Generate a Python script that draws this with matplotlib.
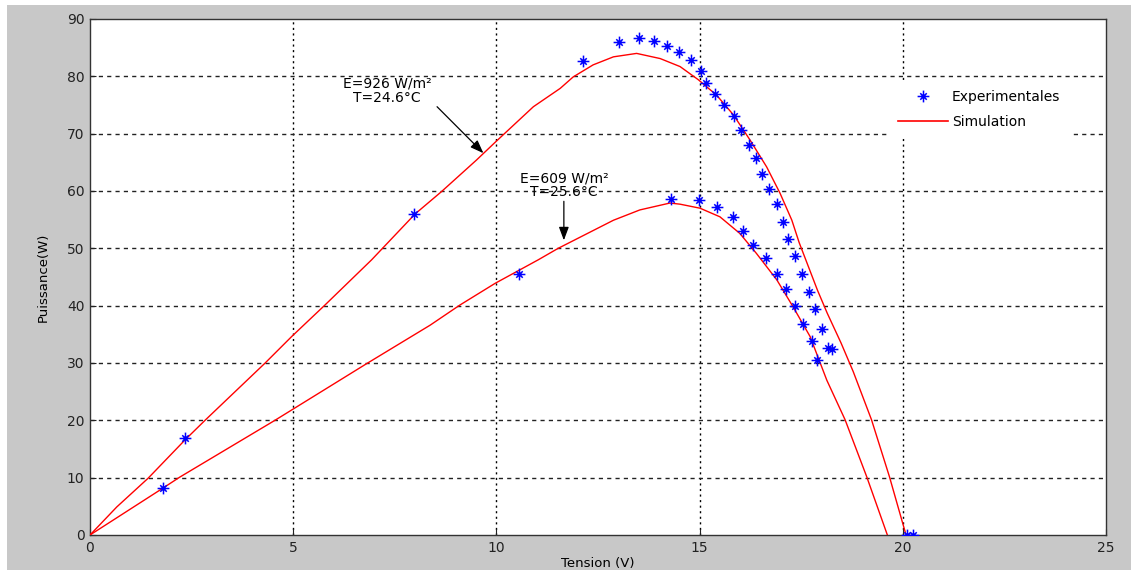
import matplotlib
matplotlib.use('Agg')
import matplotlib.pyplot as plt
from matplotlib.lines import Line2D
from matplotlib.patches import Rectangle
from matplotlib.path import Path

# Simulation curves
sim926_v = [0, 0.66, 1.43, 2.34, 2.83, 4.31, 4.96, 5.78, 6.93, 8.0, 8.65, 9.51, 9.97,
            10.91, 11.57, 11.89, 12.38, 12.88, 13.45, 14.03, 14.52, 14.97, 15.42, 15.83,
            16.24, 16.65, 16.98, 17.27, 17.45, 17.9, 18.14, 18.48, 18.78, 19.23, 19.67, 20.08]
sim926_p = [0, 4.9, 9.9, 16.6, 20.0, 30.0, 34.6, 40.1, 48.0, 56.0, 59.9, 65.4, 68.5,
            74.7, 77.9, 79.9, 82.0, 83.4, 84.0, 83.1, 81.7, 79.4, 76.7, 73.3,
            68.9, 64.2, 59.6, 54.9, 51.0, 42.7, 38.7, 33.5, 28.5, 20.1, 10.2, 0]

sim609_v = [0, 1.8, 2.21, 4.55, 6.81, 8.37, 9.1, 9.97, 11.03, 11.52, 12.88, 13.53, 14.27,
            14.52, 15.01, 15.5, 15.99, 16.4, 16.9, 17.3, 17.72, 18.13, 18.58, 19.11, 19.62]
sim609_p = [0, 8.2, 10.1, 20.0, 29.9, 36.6, 40.1, 43.9, 48.0, 50.0, 54.9, 56.7, 57.9,
            57.7, 57.0, 55.5, 52.6, 49.1, 44.5, 39.8, 34.6, 27.0, 20.1, 10.2, 0]

# Experimental points
exp926_v = [2.34, 7.97, 12.13, 13.02, 13.5, 13.89, 14.19, 14.49, 14.8, 15.03, 15.15, 15.38,
            15.6, 15.84, 16.03, 16.22, 16.4, 16.54, 16.71, 16.91, 17.06, 17.18, 17.35, 17.53,
            17.69, 17.84, 18.0, 18.15, 18.25, 20.1]
exp926_p = [16.9, 56.0, 82.7, 86.0, 86.6, 86.2, 85.3, 84.2, 82.9, 81.0, 78.8, 77.0,
            75.0, 73.0, 70.6, 68.1, 65.7, 63.0, 60.3, 57.7, 54.6, 51.6, 48.7, 45.6,
            42.4, 39.4, 35.9, 32.6, 32.5, 0]

exp609_v = [1.8, 10.56, 14.29, 14.99, 15.44, 15.83, 16.08, 16.31, 16.63, 16.9, 17.13,
            17.35, 17.55, 17.76, 17.88, 20.24]
exp609_p = [8.2, 45.5, 58.6, 58.4, 57.2, 55.5, 53.1, 50.6, 48.3, 45.6, 42.9,
            39.9, 36.8, 33.9, 30.6, 0]

plt.rcParams['font.family'] = ['DejaVu Sans']

# MATLAB-like asterisk: long plus arms, short diagonal arms
d = 0.55
verts = [(-1, 0), (1, 0), (0, -1), (0, 1), (-d, -d), (d, d), (-d, d), (d, -d)]
codes = [Path.MOVETO, Path.LINETO] * 4
star = Path(verts, codes)

fig = plt.figure(figsize=(11.36, 5.70), dpi=100)
fig.patch.set_facecolor('white')
fig.patches.append(Rectangle((7 / 1136, 0), 1124 / 1136, 565 / 570,
                             transform=fig.transFigure, facecolor='#c8c8c8',
                             edgecolor='none', zorder=-10))
ax = fig.add_axes([90 / 1136, 35 / 570, 1016 / 1136, 516 / 570])
ax.set_zorder(1)
ax.set_facecolor('white')

for xv in range(5, 25, 5):
    ax.axvline(xv, color='black', linestyle=(0, (1.5, 2.5)), linewidth=1, zorder=1)
for yv in range(10, 90, 10):
    ax.axhline(yv, color='#222222', linestyle=(0, (3, 3)), linewidth=1, zorder=1)

ax.plot(sim926_v, sim926_p, color='red', linewidth=1, zorder=3)
ax.plot(sim609_v, sim609_p, color='red', linewidth=1, zorder=3)
mk = dict(linestyle='none', marker=star, markersize=8.5, markeredgewidth=1.1,
          color='blue', zorder=4)
ax.plot(exp926_v, exp926_p, **mk)
ax.plot(exp609_v, exp609_p, **mk)

ax.text(7.31, 77.5, 'E=926 W/m²\nT=24.6°C', ha='center', va='center',
        fontsize=10, linespacing=1.0, zorder=5)
ax.annotate('', xy=(9.68, 66.6), xytext=(8.54, 74.7),
            arrowprops=dict(arrowstyle='-|>,head_length=0.8,head_width=0.3',
                            color='black', lw=0.9, shrinkA=0, shrinkB=0), zorder=5)
ax.text(11.66, 61.0, 'E=609 W/m²\nT=25.6°C', ha='center', va='center',
        fontsize=10, linespacing=1.0, zorder=5)
ax.annotate('', xy=(11.66, 51.4), xytext=(11.66, 58.2),
            arrowprops=dict(arrowstyle='-|>,head_length=0.8,head_width=0.3',
                            color='black', lw=0.9, shrinkA=0, shrinkB=0), zorder=5)

handles = [Line2D([], [], linestyle='none', marker=star, markersize=8.5,
                  markeredgewidth=1.1, color='blue'),
           Line2D([], [], color='red', linewidth=1.2)]
leg = ax.legend(handles, ['Experimentales', 'Simulation'], loc='upper left',
                bbox_to_anchor=(0.787, 0.878), borderaxespad=0, fontsize=10,
                handlelength=3.6, handletextpad=0.3, labelspacing=0.75,
                borderpad=0.6, frameon=True, fancybox=False)
leg.get_frame().set_edgecolor('white')
leg.get_frame().set_facecolor('white')
leg.get_frame().set_alpha(1)
leg.set_zorder(6)

ax.set_xlim(0, 25)
ax.set_ylim(0, 90)
ax.set_xticks(range(0, 30, 5))
ax.set_yticks(range(0, 100, 10))
ax.tick_params(direction='in', length=4, labelsize=10, colors='#222222', pad=4)
for s in ax.spines.values():
    s.set_color('#333333')
    s.set_linewidth(1)
ax.set_xlabel('Tension (V)', fontsize=9.5, labelpad=2)
ax.set_ylabel('Puissance(W)', fontsize=9.5, labelpad=12)

fig.savefig('out.png', dpi=100, facecolor=fig.get_facecolor())
